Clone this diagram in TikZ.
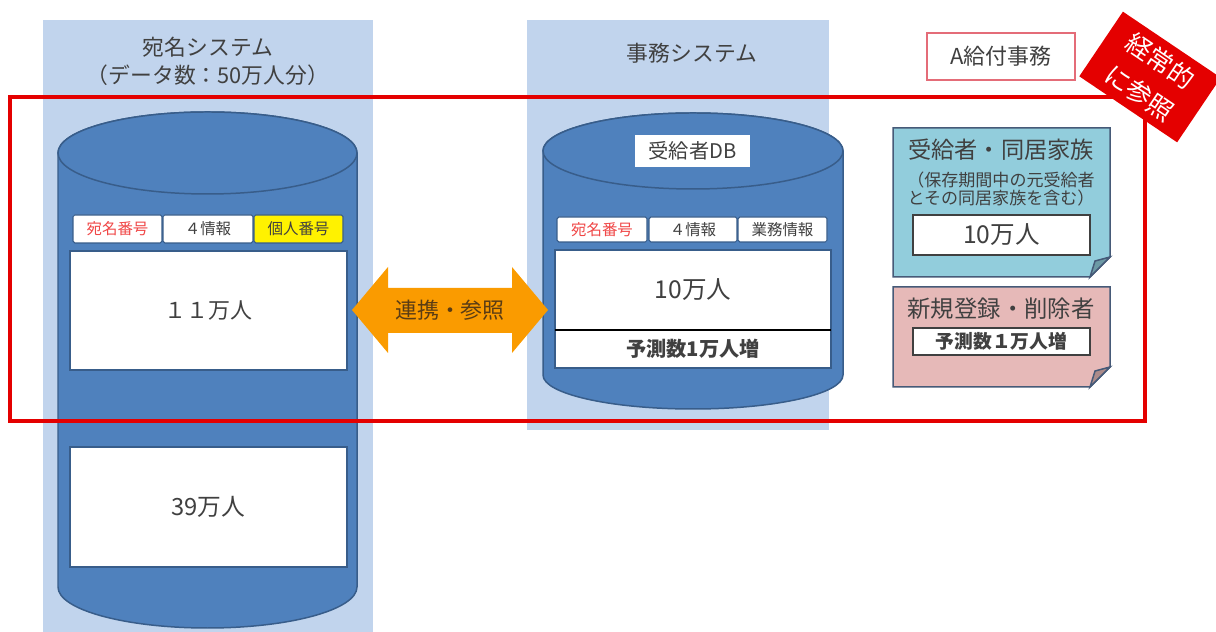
\documentclass[tikz,border=0pt]{standalone}
\usepackage{fontspec}
\setmainfont{Noto Sans CJK JP}

\definecolor{panelblue}{RGB}{193,212,237}
\definecolor{dbblue}{RGB}{79,129,189}
\definecolor{dbedge}{RGB}{56,93,138}
\definecolor{noteblue}{RGB}{146,205,220}
\definecolor{notepink}{RGB}{230,185,184}
\definecolor{noteedge}{RGB}{70,90,120}
\definecolor{linkorange}{RGB}{250,155,0}
\definecolor{linktext}{RGB}{90,60,20}
\definecolor{framered}{RGB}{228,0,0}
\definecolor{kyufured}{RGB}{228,108,120}
\definecolor{atenared}{RGB}{240,70,70}
\definecolor{textgray}{RGB}{64,64,64}

\begin{document}
\begin{tikzpicture}[x=0.2mm, y=0.2mm,
    every node/.style = {inner sep=0pt, outer sep=0pt, align=center, text=textgray},
            sz/.style = {font=\fontsize{#1}{#1}\selectfont},
         title/.style = {sz=12.4},
        dbbody/.style = {fill=dbblue, draw=dbedge, line width=0.85pt},
          cell/.style = {draw=dbedge, fill=white, rounded corners=1pt, line width=0.6pt,
                         sz=8.8},
        bigbox/.style = {draw=dbedge, fill=white, line width=0.85pt},
        numbox/.style = {draw=black!75, fill=white, line width=0.7pt,
                         minimum width=35.4mm},
          note/.style = {draw=noteedge, line width=0.85pt}]
  \useasboundingbox (0,0) rectangle (1216,632);
  % system panels
  \fill[panelblue] (43,0) rectangle (373,612);
  \fill[panelblue] (527,202) rectangle (829,612);
  \node[title] (atenaTitle) at (208,585) {宛名システム};
  \node[title] (atenaCount) at (208,557) {（データ数：50万人分）};
  \node[title] (jimuTitle)  at (692,579) {事務システム};
  % atena DB
  \draw[dbbody] (58,479) -- (58,45)
    arc[start angle=180, end angle=360, x radius=149.5, y radius=41] -- (357,479)
    arc[start angle=0, end angle=180, x radius=149.5, y radius=41] -- cycle;
  \draw[dbbody] (207.5,479) ellipse[x radius=149.5, y radius=41];
  \node[cell, minimum width=17.8mm, minimum height=5.6mm, text=atenared]
                (aNo)    at (117.5,403) {宛名番号};
  \node[cell, minimum width=18mm, minimum height=5.6mm]
                (aInfo)  at (208,403)   {４情報};
  \node[cell, minimum width=17.8mm, minimum height=5.6mm, fill=yellow]
                (aKojin) at (298.5,403) {個人番号};
  \node[bigbox, minimum width=55.4mm, minimum height=23.8mm, sz=12.5]
                (a11)    at (208.5,321.5) {１１万人};
  \node[bigbox, minimum width=55.4mm, minimum height=24mm, sz=13.5]
                (a39)    at (208.5,125) {39万人};
  % jimu DB
  \draw[dbbody] (543,481) -- (543,257)
    arc[start angle=180, end angle=360, x radius=150, y radius=34] -- (843,481)
    arc[start angle=0, end angle=180, x radius=150, y radius=38] -- cycle;
  \draw[dbbody] (693,481) ellipse[x radius=150, y radius=38];
  \node[fill=white, minimum width=23mm, minimum height=6.4mm, sz=11.5]
                (jDB)    at (692.5,481) {受給者DB};
  \node[cell, minimum width=18mm, minimum height=5mm, text=atenared]
                (jNo)    at (602,402.5) {宛名番号};
  \node[cell, minimum width=17.6mm, minimum height=5mm]
                (jInfo)  at (693,402.5) {４情報};
  \node[cell, minimum width=17.8mm, minimum height=5mm]
                (jGyomu) at (782.5,402.5) {業務情報};
  \node[bigbox, minimum width=55.2mm, minimum height=7.6mm, sz=11.5]
                (jYosoku) at (693,283) {\bfseries 予測数1万人増};
  \node[bigbox, minimum width=55.2mm, minimum height=16mm, sz=14]
                (j10)    at (693,342) {10万人};
  \draw[black, line width=1.2pt] (j10.south west) -- (j10.south east);
  % link arrow
  \fill[linkorange] (352,322) -- (388,365) -- (388,344) -- (512,344) -- (512,365)
    -- (548,322) -- (512,279) -- (512,299) -- (388,299) -- (388,279) -- cycle;
  \node[sz=12.5, text=linktext] (link) at (450,322) {連携・参照};
  % A kyufu jimu
  \node[draw=kyufured, fill=white, line width=1.2pt, minimum width=29.6mm,
        minimum height=9.4mm, sz=12.5] (kyufu) at (1001,575.5) {A給付事務};
  % notes
  \draw[note, fill=noteblue] (893,504) -- (1110,504) -- (1110,375) -- (1090,355)
    -- (893,355) -- cycle;
  \draw[note, fill=noteblue!75!black] (1090,355) -- (1095,371) -- (1110,375) -- cycle;
  \node[sz=13.2] (jukyu)  at (1001,482) {受給者・同居家族};
  \node[sz=9.7]  (hozon1) at (1001,452) {（保存期間中の元受給者};
  \node[sz=9.7]  (hozon2) at (1001,434) {とその同居家族を含む）};
  \node[numbox, minimum height=8mm, sz=14] (n10) at (1001.5,397) {10万人};
  \draw[note, fill=notepink] (893,345) -- (1110,345) -- (1110,265) -- (1090,245)
    -- (893,245) -- cycle;
  \draw[note, fill=notepink!75!black] (1090,245) -- (1095,261) -- (1110,265) -- cycle;
  \node[sz=13.3] (shinki) at (1001,323) {新規登録・削除者};
  \node[numbox, minimum height=5.4mm, sz=10.7] (nYosoku) at (1001.5,290.5)
        {\bfseries 予測数１万人増};
  % reference frame
  \draw[framered, line width=2.8pt] (10,211) rectangle (1145,535);
  \node[fill=framered, rotate=-34, minimum width=23.6mm, minimum height=15.6mm,
        text=white, font=\fontsize{14.5}{22}\selectfont] (stamp) at (1150,555)
        {経常的\\に参照};
\end{tikzpicture}
\end{document}
